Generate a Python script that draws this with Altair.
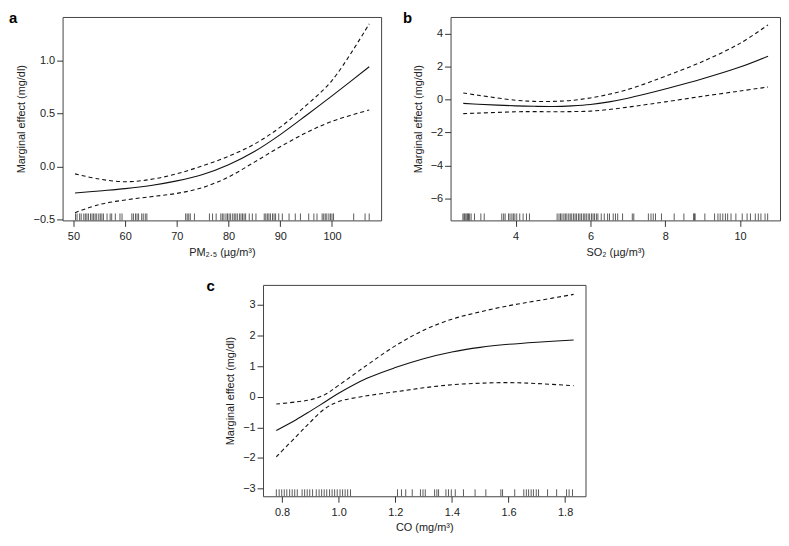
import altair as alt
import pandas as pd

FONT = "Liberation Sans"
TXT = "#222222"

letters = ["a", "b", "c"]

# ---------------- panel a : PM2.5 ----------------
a_x = [50.3, 55, 60, 65, 70, 75, 80, 85, 90, 95, 100, 107.2]
a_fit = [-0.252, -0.232, -0.21, -0.18, -0.137, -0.077, 0.015, 0.14, 0.30, 0.48, 0.665, 0.94]
a_upper = [-0.071, -0.12, -0.145, -0.123, -0.07, 0.006, 0.095, 0.21, 0.37, 0.575, 0.81, 1.345]
a_lower = [-0.437, -0.36, -0.317, -0.286, -0.255, -0.2, -0.10, 0.04, 0.185, 0.317, 0.425, 0.532]
a_rug = [50.4, 50.7, 51.2, 51.5, 52.0, 52.3, 52.6, 52.9, 53.3, 53.6, 53.9, 54.2, 54.5,
         54.9, 55.2, 55.5, 55.8, 56.5, 57.1, 57.4, 58.1, 59.0, 59.4, 61.3, 61.6, 62.0,
         62.3, 62.6, 63.2, 63.5, 63.9, 64.2, 71.7, 72.0, 72.3, 72.6, 73.4, 76.3, 76.9,
         77.6, 78.5, 78.8, 79.1, 79.5, 79.8, 80.1, 80.4, 80.8, 81.1, 81.4, 81.7, 82.1,
         82.4, 82.7, 83.0, 83.3, 84.0, 84.6, 85.3, 86.9, 87.2, 87.5, 87.8, 88.1, 88.5,
         88.8, 89.1, 89.7, 90.4, 91.7, 92.9, 93.9, 95.5, 96.5, 97.1, 98.1, 98.4, 98.7,
         99.0, 99.4, 99.7, 100.0, 100.3, 104.2, 106.4, 107.2]

# ---------------- panel b : SO2 ----------------
b_x = [2.6, 3, 4, 4.5, 5, 5.5, 6, 6.5, 7, 7.5, 8, 9, 10, 10.75]
b_fit = [-0.24, -0.29, -0.39, -0.42, -0.43, -0.39, -0.31, -0.15, 0.07, 0.34, 0.63, 1.25, 1.96, 2.62]
b_upper = [0.39, 0.25, -0.05, -0.12, -0.12, -0.06, 0.09, 0.31, 0.6, 0.98, 1.4, 2.3, 3.4, 4.52]
b_lower = [-0.86, -0.83, -0.75, -0.74, -0.75, -0.74, -0.71, -0.61, -0.47, -0.31, -0.15, 0.19, 0.51, 0.75]
b_rug = [2.59, 2.62, 2.64, 2.67, 2.70, 2.72, 2.74, 2.77, 2.81, 2.90, 3.07, 3.16, 3.63,
         3.68, 3.72, 3.81, 3.85, 3.90, 3.94, 3.98, 4.03, 4.11, 4.20, 4.29, 4.37, 5.11,
         5.16, 5.20, 5.24, 5.29, 5.33, 5.37, 5.42, 5.46, 5.50, 5.55, 5.59, 5.63, 5.68,
         5.72, 5.76, 5.81, 5.85, 5.89, 5.94, 5.98, 6.03, 6.07, 6.11, 6.16, 6.20, 6.29,
         6.37, 6.46, 6.51, 6.61, 6.67, 6.73, 6.86, 7.12, 7.16, 7.55, 7.62, 7.68, 7.74,
         7.90, 8.24, 8.50, 8.76, 8.78, 8.80, 9.06, 9.32, 9.41, 9.47, 9.54, 9.61, 9.67,
         9.76, 9.89, 10.06, 10.19, 10.28, 10.41, 10.49, 10.56, 10.67, 10.74]

# ---------------- panel c : CO ----------------
c_x = [0.78, 0.85, 0.9, 0.95, 1.0, 1.1, 1.2, 1.3, 1.4, 1.5, 1.6, 1.7, 1.83]
c_fit = [-1.1, -0.75, -0.47, -0.18, 0.11, 0.6, 0.95, 1.24, 1.46, 1.61, 1.71, 1.78, 1.85]
c_upper = [-0.24, -0.17, -0.1, 0.06, 0.37, 1.03, 1.66, 2.17, 2.53, 2.77, 2.97, 3.13, 3.34]
c_lower = [-1.96, -1.3, -0.83, -0.4, -0.16, 0.03, 0.16, 0.29, 0.39, 0.44, 0.46, 0.43, 0.36]
c_rug = [0.780, 0.790, 0.799, 0.808, 0.817, 0.827, 0.836, 0.845, 0.854, 0.871, 0.880,
         0.889, 0.898, 0.908, 0.921, 0.931, 0.940, 0.949, 0.958, 0.968, 0.977, 0.986,
         0.995, 1.005, 1.014, 1.023, 1.032, 1.042, 1.208, 1.222, 1.237, 1.260, 1.289,
         1.298, 1.306, 1.339, 1.347, 1.353, 1.379, 1.388, 1.398, 1.412, 1.441, 1.482,
         1.520, 1.573, 1.579, 1.622, 1.654, 1.663, 1.671, 1.680, 1.688, 1.698, 1.706,
         1.738, 1.770, 1.805, 1.814, 1.826]

Y_TITLE = "Marginal effect (mg/dl)"
INTERP = "catmull-rom"


def panel(letter, xs, fit, up, lo, rug, xdom, ydom, xticks, yticks, xfmt, yfmt,
          xtitle, w, h, letter_x):
    curves = pd.DataFrame({"x": xs, "fit": fit, "upper": up, "lower": lo})
    rugdf = pd.DataFrame({"x": rug})
    xsc = alt.Scale(domain=xdom, nice=False, zero=False)
    ysc = alt.Scale(domain=ydom, nice=False, zero=False)
    xax = alt.Axis(values=xticks, format=xfmt, title=xtitle, labelOverlap=False,
                   tickCount=len(xticks))
    yax = alt.Axis(values=yticks, format=yfmt, title=Y_TITLE, labelOverlap=False,
                   tickCount=len(yticks))
    X = alt.X("x:Q", scale=xsc, axis=xax)
    base = alt.Chart(curves)
    fit_l = base.mark_line(color="#111111", strokeWidth=1.1, interpolate=INTERP).encode(
        x=X, y=alt.Y("fit:Q", scale=ysc, axis=yax))
    up_l = base.mark_line(color="#111111", strokeWidth=1.1, strokeDash=[4, 3],
                          interpolate=INTERP).encode(
        x=X, y=alt.Y("upper:Q", scale=ysc, axis=yax))
    lo_l = base.mark_line(color="#111111", strokeWidth=1.1, strokeDash=[4, 3],
                          interpolate=INTERP).encode(
        x=X, y=alt.Y("lower:Q", scale=ysc, axis=yax))
    rug_l = alt.Chart(rugdf).mark_rule(color="#333333", strokeWidth=0.8).encode(
        x=X, y=alt.value(h - 7), y2=alt.value(h))
    lab = alt.Chart(pd.DataFrame({"t": [letter]})).mark_text(
        font=FONT, fontSize=15, fontWeight="bold", color="#000000",
        align="left", baseline="top").encode(
        text="t:N", x=alt.value(letter_x), y=alt.value(-6))
    return alt.layer(fit_l, up_l, lo_l, rug_l, lab).properties(width=w, height=h)


pa = panel(letters[0], a_x, a_fit, a_upper, a_lower, a_rug, [47.9, 109.5], [-0.51, 1.41],
           [50, 60, 70, 80, 90, 100], [-0.5, 0.0, 0.5, 1.0], "d", ".1f",
           "PM\u2082.\u2085 (\u00b5g/m\u00b3)", 321, 205, -54)
pb = panel(letters[1], b_x, b_fit, b_upper, b_lower, b_rug, [2.26, 11.07], [-7.34, 5.0],
           [4, 6, 8, 10], [-6, -4, -2, 0, 2, 4], "d", "d",
           "SO\u2082 (\u00b5g/m\u00b3)", 332, 205, -48)
pc = panel(letters[2], c_x, c_fit, c_upper, c_lower, c_rug, [0.733, 1.872], [-3.25, 3.65],
           [0.8, 1.0, 1.2, 1.4, 1.6, 1.8], [-3, -2, -1, 0, 1, 2, 3], ".1f", "d",
           "CO (mg/m\u00b3)", 325, 213, -57)

spacer = alt.Chart(pd.DataFrame({"x": [0]})).mark_point(opacity=0).encode(
    x=alt.X("x:Q", axis=None), y=alt.value(0)).properties(
    width=144, height=10, view=alt.ViewBackground(strokeOpacity=0))

top = alt.hconcat(pa, pb, spacing=20)
bottom = alt.hconcat(spacer, pc, spacing=0)

chart = alt.vconcat(top, bottom, spacing=20).properties(
    padding=0
).configure_view(stroke="#444444", strokeWidth=1).configure_axis(
    domain=False, grid=False, tickColor="#333333", tickSize=6, tickWidth=1,
    labelFont=FONT, labelFontSize=11, labelColor=TXT, labelOverlap=False,
    titleFont=FONT, titleFontSize=11, titleFontWeight="normal", titleColor=TXT,
).configure_axisX(labelPadding=4, titlePadding=5).configure_axisY(
    labelPadding=2, titlePadding=7)

chart.save("out.html", embed_options={"renderer": "svg", "actions": False})
